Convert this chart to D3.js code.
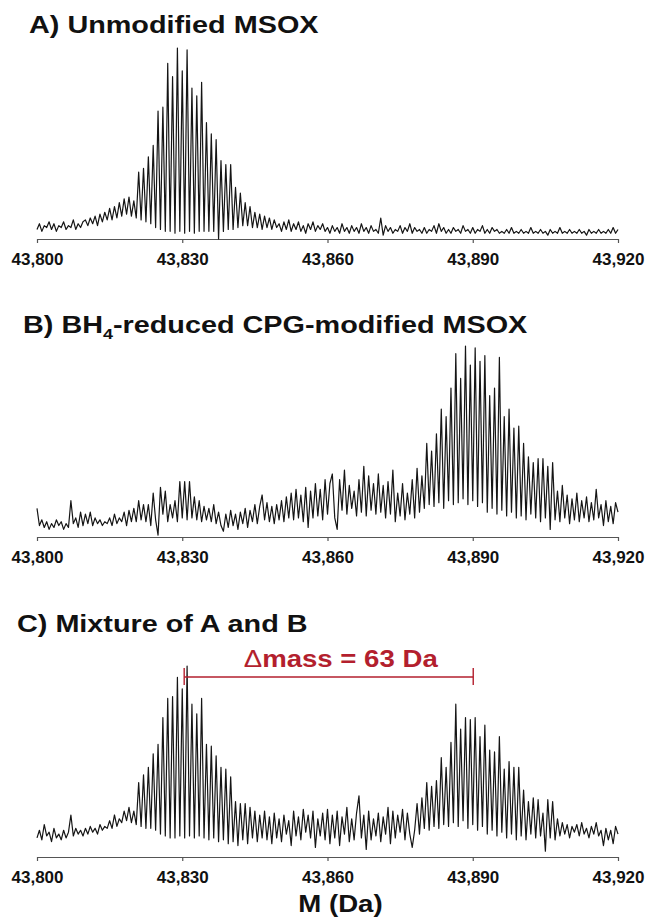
<!DOCTYPE html>
<html>
<head>
  <meta charset="utf-8">
  <script src="https://d3js.org/d3.v7.min.js"></script>
  <style>
    body { margin: 0; background: #fff; }
  </style>
</head>
<body>
<div id="my_dataviz"></div>
<script>

// mass axis: one sample every 0.5 Da from 43,800 to 43,920
var massStart = 43800,
    massStep = 0.5;
var tickValues = [43800, 43830, 43860, 43890, 43920];
var axisLabel = "M (Da)";

// panel titles, odd parts are subscripts
var titleA = ["A) Unmodified MSOX"];
var titleB = ["B) BH", "4", "-reduced CPG-modified MSOX"];
var titleC = ["C) Mixture of A and B"];

// relative intensity (%), 10 Da per row
var spectrumA = [
  5,8,4,7,6,9,5,8,4,7,6,9,5,7,6,10,5,8,6,9,
  10,7,11,8,12,7,13,9,14,10,16,10,17,11,19,12,21,13,22,12,
  20,11,35,10,37,9,43,8,49,6,67,5,69,4,92,4,85,3,100,4,
  88,3,99,4,79,3,75,4,82,4,61,4,55,4,52,0,41,4,39,5,
  39,5,27,6,24,7,19,7,17,6,14,6,13,5,12,6,11,5,10,6,
  8,4,9,5,10,4,8,5,9,4,7,3,8,5,9,4,7,5,8,4,
  6,3,7,4,6,3,8,4,6,3,7,4,6,3,8,4,6,3,7,4,
  5,3,11,2,7,4,6,3,5,4,7,3,6,4,8,3,6,4,5,3,
  6,3,5,4,7,3,8,4,6,3,5,3,6,4,5,3,7,4,5,3,
  6,3,5,4,7,3,5,3,6,4,5,3,4,3,5,3,6,3,4,3,
  5,3,4,3,6,3,4,3,5,3,4,2,5,3,4,3,6,3,4,3,
  5,3,4,3,5,3,4,2,5,3,4,3,5,3,4,3,5,3,6,3,
  5
];

var spectrumB = [
  15,6,9,5,8,4,7,5,9,6,8,4,7,5,19,7,10,5,13,6,
  12,7,13,6,10,7,9,6,8,7,10,6,12,7,10,8,13,6,14,8,
  15,8,19,9,17,8,17,6,23,9,1,26,12,24,8,17,10,19,8,29,
  10,29,9,29,10,21,9,19,8,16,9,15,8,17,7,13,6,3,12,5,
  14,6,12,4,13,7,15,5,14,8,17,7,16,22,9,18,8,16,7,17,
  9,19,8,21,10,23,9,25,10,22,8,26,5,24,10,28,11,25,9,30,
  12,28,33,10,4,30,14,35,12,27,15,24,11,30,13,37,11,32,14,28,
  12,33,13,27,10,29,12,35,8,23,11,28,9,23,12,30,10,36,13,32,
  15,49,17,45,16,54,18,67,15,63,19,78,17,96,18,83,20,100,17,90,
  19,99,16,92,18,95,13,74,15,78,12,94,14,63,11,67,13,57,10,58,
  11,49,9,42,12,39,10,41,8,41,10,37,4,39,9,24,8,27,10,22,
  7,20,9,23,8,19,10,21,8,18,9,25,10,17,6,19,8,16,7,18,
  13
];

var spectrumC = [
  10,14,9,17,11,13,8,15,10,12,9,14,10,13,22,11,15,12,14,11,
  15,12,16,13,15,12,17,14,16,15,19,15,22,16,20,18,24,19,26,18,
  24,17,39,16,43,15,47,15,54,14,59,12,73,11,83,10,84,10,94,11,
  88,10,100,11,80,10,75,11,83,10,59,9,58,10,53,8,47,9,46,7,
  42,8,29,6,28,9,28,7,26,10,24,8,22,10,24,9,21,7,23,10,
  20,8,22,12,19,6,24,11,21,9,25,13,22,10,24,5,20,11,23,9,
  25,7,22,10,24,6,21,12,26,8,20,9,23,32,10,22,4,24,9,20,
  11,23,8,21,12,26,7,24,10,22,13,25,9,23,12,5,14,28,12,31,
  15,39,14,37,16,40,15,52,17,47,16,60,18,80,16,67,19,73,15,72,
  17,73,14,63,16,69,12,56,14,55,11,63,13,46,10,50,12,47,9,47,
  11,35,9,29,12,31,10,30,11,23,3,30,10,29,9,20,11,18,12,17,
  10,16,13,17,11,18,12,15,10,16,12,18,11,14,6,15,9,14,7,16,
  12
];

// mass difference bracket in panel C
var deltaRange = [43830.4, 43890.1];
var deltaSymbol = "\u0394";
var deltaText = "mass = 63 Da";

// ---- layout ----
var width = 655, height = 920;
var axisY = [239, 537, 857];       // baseline of each panel
var plotH = 191;                    // height of 100 %
var titlePos = [[29, 33], [23, 333], [17, 632]];
var font = "'Liberation Sans', Arial, Helvetica, sans-serif";
var stretch = 1.2;                  // the figure text is a bit wide
var red = "#b31f2e";

var svg = d3.select("#my_dataviz")
  .append("svg")
    .attr("width", width)
    .attr("height", height);

var x = d3.scaleLinear()
  .domain([43800, 43920])
  .range([37, 618]);

var panels = [
  {title: titleA, values: spectrumA},
  {title: titleB, values: spectrumB},
  {title: titleC, values: spectrumC}
];

panels.forEach(function(p, k) {
  var g = svg.append("g");

  var y = d3.scaleLinear()
    .domain([0, 100])
    .range([axisY[k], axisY[k] - plotH]);

  // x axis
  var ax = g.append("g")
    .attr("transform", "translate(0," + axisY[k] + ")")
    .call(d3.axisBottom(x)
      .tickValues(tickValues)
      .tickSizeInner(4)
      .tickSizeOuter(0)
      .tickPadding(10)
      .tickFormat(d3.format(",")));
  ax.select(".domain").attr("stroke", "#555").attr("stroke-width", 1.2);
  ax.selectAll(".tick line").attr("stroke", "#555").attr("stroke-width", 1.2);
  ax.selectAll(".tick text")
    .attr("fill", "#111")
    .style("font-family", font)
    .style("font-size", "17px")
    .style("font-weight", "bold");

  // spectrum trace
  var points = p.values.map(function(v, i) { return [massStart + i * massStep, v]; });
  g.append("path")
    .datum(points)
    .attr("fill", "none")
    .attr("stroke", "#151515")
    .attr("stroke-width", 1.2)
    .attr("stroke-linejoin", "round")
    .attr("d", d3.line()
      .x(function(d) { return x(d[0]); })
      .y(function(d) { return y(d[1]); }));

  // panel title
  var t = g.append("text")
    .attr("transform", "translate(" + titlePos[k][0] + "," + titlePos[k][1] + ") scale(" + stretch + ",1)")
    .style("font-family", font)
    .style("font-size", "24px")
    .style("font-weight", "bold")
    .attr("fill", "#111");
  p.title.forEach(function(part, j) {
    var s = t.append("tspan").text(part);
    if (j % 2 == 1) {
      s.attr("dy", 6).style("font-size", "15px");
    } else if (j > 0) {
      s.attr("dy", -6);
    }
  });
});

// delta mass bracket (panel C)
var bracketY = 677;
var b = svg.append("g")
  .attr("stroke", red)
  .attr("stroke-width", 1.4);
b.append("line")
  .attr("x1", x(deltaRange[0])).attr("x2", x(deltaRange[1]))
  .attr("y1", bracketY).attr("y2", bracketY);
b.selectAll("line.cap")
  .data(deltaRange)
  .enter().append("line")
    .attr("class", "cap")
    .attr("x1", function(d) { return x(d); })
    .attr("x2", function(d) { return x(d); })
    .attr("y1", bracketY - 9)
    .attr("y2", bracketY + 8);

var dt = svg.append("text")
  .attr("transform", "translate(" + ((x(deltaRange[0]) + x(deltaRange[1])) / 2 + 12) + ",667) scale(" + stretch + ",1)")
  .attr("text-anchor", "middle")
  .attr("fill", red)
  .style("font-family", font)
  .style("font-size", "23px")
  .style("font-weight", "bold");
dt.append("tspan").style("font-weight", "normal").text(deltaSymbol);
dt.append("tspan").text(deltaText);

// x axis title
svg.append("text")
  .attr("transform", "translate(" + (x(43860) + 13) + ",912) scale(" + stretch + ",1)")
  .attr("text-anchor", "middle")
  .attr("fill", "#111")
  .style("font-family", font)
  .style("font-size", "23px")
  .style("font-weight", "bold")
  .text(axisLabel);

</script>
</body>
</html>
